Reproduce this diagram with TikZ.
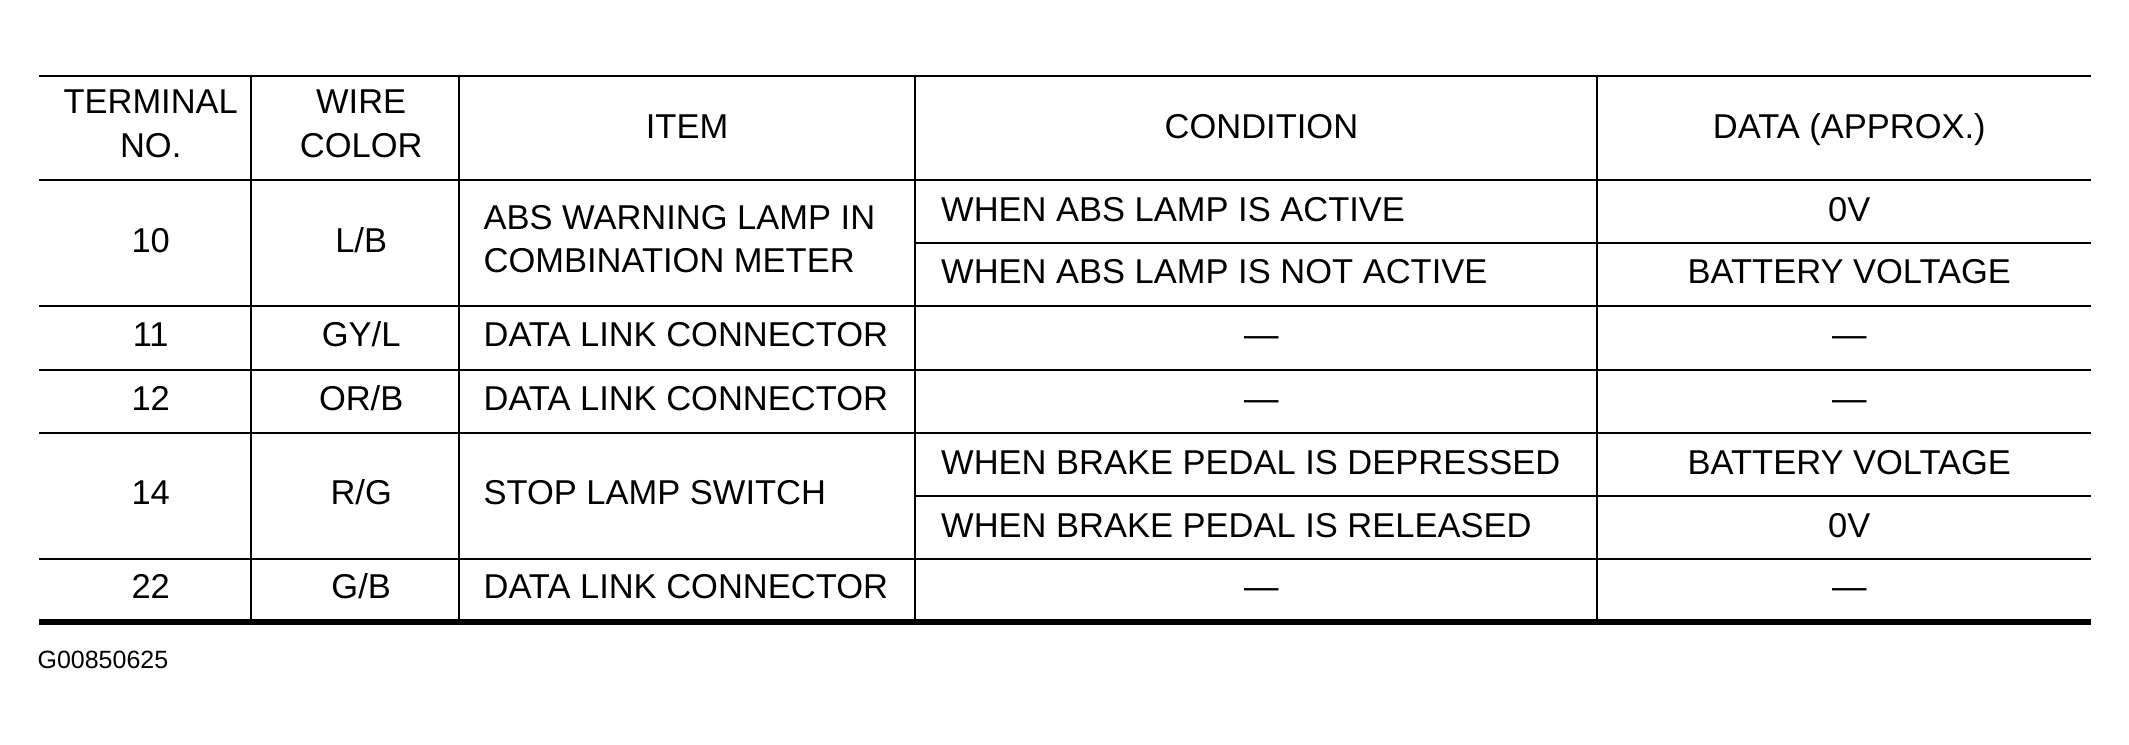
\documentclass[tikz,border=0pt]{standalone}
\usepackage{fontspec}
\setmainfont{Liberation Sans}
\begin{document}
\begin{tikzpicture}[x=1pt,y=-1pt,
  cell/.style={inner sep=0pt, font=\fontsize{25.4}{30}\selectfont, text height=18.2pt, text depth=0pt},
  ctr/.style={cell, anchor=center},
  lft/.style={cell, anchor=west},
  gridrule/.style={line width=1.5pt},
  toprule/.style={line width=2pt},
  botrule/.style={line width=4.2pt},
  figid/.style={inner sep=0pt, anchor=west, font=\fontsize{18.4}{22}\selectfont, text height=13.2pt, text depth=0pt}]
\useasboundingbox (0,0) rectangle (1568,548);
% rules
\draw[toprule] (29,56) -- (1540,56);
\foreach \yy in {132.5,225.7,272.3,318.9,411.5} \draw[gridrule] (29,\yy) -- (1540,\yy);
\foreach \yy in {179.1,365.2} \draw[gridrule] (673.7,\yy) -- (1540,\yy);
\draw[botrule] (29,458.2) -- (1540,458.2);
\foreach \xx in {185.1,337.8,673.7,1176.4} \draw[gridrule] (\xx,55) -- (\xx,456);
% header
\node[ctr] (h1a) at (111,74.6) {TERMINAL};
\node[ctr] (h1b) at (111,106.8) {NO.};
\node[ctr] (h2a) at (266,74.6) {WIRE};
\node[ctr] (h2b) at (266,106.8) {COLOR};
\node[ctr] (h3) at (506,93) {ITEM};
\node[ctr] (h4) at (929,93) {CONDITION};
\node[ctr] (h5) at (1362,93) {DATA (APPROX.)};
% row 10
\node[ctr] (t10) at (111,177.2) {10};
\node[ctr] (w10) at (266,177.2) {L/B};
\node[lft] (i10a) at (356,160) {ABS WARNING LAMP IN};
\node[lft] (i10b) at (356,191.6) {COMBINATION METER};
\node[lft] (c10a) at (693,153.7) {WHEN ABS LAMP IS ACTIVE};
\node[lft] (c10b) at (693,200) {WHEN ABS LAMP IS NOT ACTIVE};
\node[ctr] (d10a) at (1362,153.7) {0V};
\node[ctr] (d10b) at (1362,200) {BATTERY VOLTAGE};
% row 11
\node[ctr] (t11) at (111,246.4) {11};
\node[ctr] (w11) at (266,246.4) {GY/L};
\node[lft] (i11) at (356,246.4) {DATA LINK CONNECTOR};
\node[ctr] (c11) at (929,246.4) {—};
\node[ctr] (d11) at (1362,246.4) {—};
% row 12
\node[ctr] (t12) at (111,293.3) {12};
\node[ctr] (w12) at (266,293.3) {OR/B};
\node[lft] (i12) at (356,293.3) {DATA LINK CONNECTOR};
\node[ctr] (c12) at (929,293.3) {—};
\node[ctr] (d12) at (1362,293.3) {—};
% row 14
\node[ctr] (t14) at (111,362.7) {14};
\node[ctr] (w14) at (266,362.7) {R/G};
\node[lft] (i14) at (356,362.7) {STOP LAMP SWITCH};
\node[lft] (c14a) at (693,340.1) {WHEN BRAKE PEDAL IS DEPRESSED};
\node[lft] (c14b) at (693,386.4) {WHEN BRAKE PEDAL IS RELEASED};
\node[ctr] (d14a) at (1362,340.1) {BATTERY VOLTAGE};
\node[ctr] (d14b) at (1362,386.4) {0V};
% row 22
\node[ctr] (t22) at (111,431.6) {22};
\node[ctr] (w22) at (266,431.6) {G/B};
\node[lft] (i22) at (356,431.6) {DATA LINK CONNECTOR};
\node[ctr] (c22) at (929,431.6) {—};
\node[ctr] (d22) at (1362,431.6) {—};
% figure id
\node[figid] (fid) at (27.5,485.6) {G00850625};
\end{tikzpicture}
\end{document}
